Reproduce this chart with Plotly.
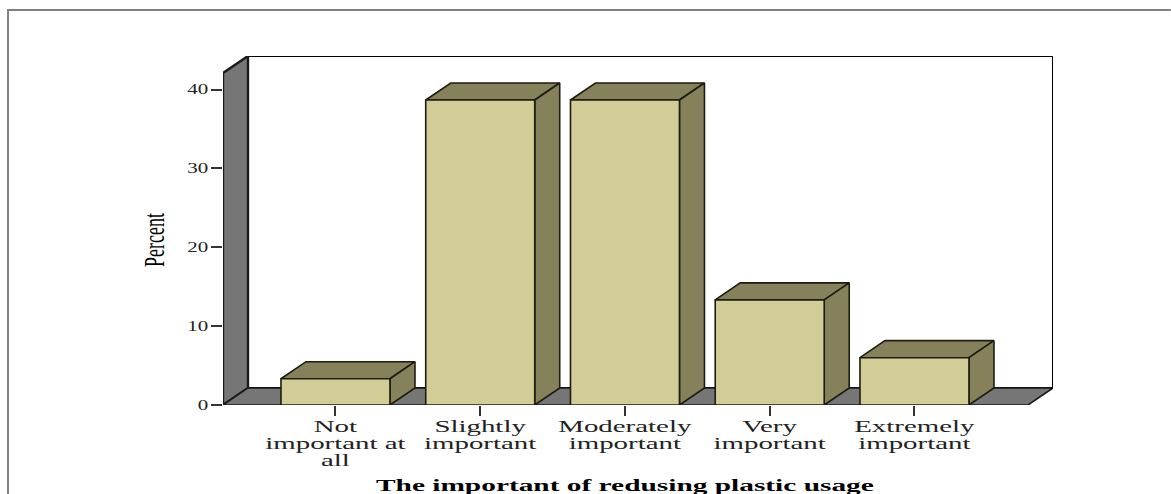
import plotly.graph_objects as go

# Survey results: share of respondents per importance level
categories = ["Not<br>important at<br>all", "Slightly<br>important", "Moderately<br>important",
              "Very<br>important", "Extremely<br>important"]
percent = [3.33, 38.67, 38.67, 13.33, 6.0]
y_ticks = [0, 10, 20, 30, 40]
x_title = "The important of redusing plastic usage"
y_title = "Percent"

# Fixed 3D look of the SPSS-style chart, in axis units
X_MIN, X_MAX = -0.777, 4.957
Y_MAX = 44.25
DEPTH_X, DEPTH_Y = 0.1727, 2.16
HALF_W = 0.3765
WALL_END = X_MAX - DEPTH_X

FRONT = "#d2cd96"
SIDE = "#85825b"
WALL = "#767676"
EDGE = "#1c1c10"


def poly(xs, ys, fill, line=EDGE, width=1.6):
    return go.Scatter(x=xs + xs[:1], y=ys + ys[:1], mode="lines", fill="toself", fillcolor=fill,
                      line=dict(color=line, width=width), hoverinfo="skip", showlegend=False)


fig = go.Figure()

# Back wall, side wall and floor
fig.add_trace(poly([X_MIN + DEPTH_X, X_MAX, X_MAX, X_MIN + DEPTH_X],
                   [DEPTH_Y, DEPTH_Y, Y_MAX, Y_MAX], "#ffffff", "#000000", 2))
fig.add_trace(poly([X_MIN, X_MIN + DEPTH_X, X_MIN + DEPTH_X, X_MIN],
                   [0, DEPTH_Y, Y_MAX, Y_MAX - DEPTH_Y], WALL, "#1a1a1a", 2.4))
fig.add_trace(poly([X_MIN, X_MIN + DEPTH_X, X_MAX, WALL_END],
                   [0, DEPTH_Y, DEPTH_Y, 0], WALL, "#1a1a1a", 1.6))

# One box per category: front face, top and right side
for i, v in enumerate(percent):
    left, right = i - HALF_W, i + HALF_W
    fig.add_trace(poly([left, right, right + DEPTH_X, left + DEPTH_X],
                       [v, v, v + DEPTH_Y, v + DEPTH_Y], SIDE))
    fig.add_trace(poly([right, right + DEPTH_X, right + DEPTH_X, right],
                       [0, DEPTH_Y, v + DEPTH_Y, v], SIDE))
    fig.add_trace(poly([left, right, right, left], [0, 0, v, v], FRONT))

fig.update_layout(
    width=1171, height=494, autosize=False,
    margin=dict(l=223, r=118, t=56, b=88.5),
    paper_bgcolor="#ffffff", plot_bgcolor="#ffffff",
    showlegend=False,
    font=dict(family="Liberation Serif", color="#222222"),
    xaxis=dict(range=[X_MIN, X_MAX], tickmode="array", tickvals=list(range(len(categories))),
               ticktext=categories, ticks="outside", ticklen=10, tickwidth=1.5, tickcolor="#333333",
               showgrid=False, zeroline=False, showline=False, tickangle=0, automargin=False,
               tickfont=dict(size=17, family="Liberation Serif", color="#222222")),
    yaxis=dict(range=[0, Y_MAX], tickmode="array", tickvals=y_ticks, ticks="outside", ticklen=11,
               tickwidth=1.5, tickcolor="#333333", showgrid=False, zeroline=False, showline=False,
               automargin=False,
               tickfont=dict(size=14, family="Liberation Serif", color="#222222")),
    annotations=[
        dict(text=x_title, xref="x", yref="paper", x=2.0, y=0, yshift=-80, showarrow=False,
             font=dict(size=16.5, family="Liberation Serif", color="#000000", weight="bold"),
             xanchor="center", yanchor="middle", name="xt"),
        dict(text=y_title, xref="paper", yref="y", x=-0.0835, y=21, textangle=-90, showarrow=False,
             font=dict(size=30, family="Liberation Serif", color="#000000"),
             xanchor="center", yanchor="middle", name="yt"),
    ],
    # Outer frame of the chart panel, open towards the right
    shapes=[dict(type="path", xref="paper", yref="paper",
                 path="M -0.259,-0.3 L -0.259,1.132 L 1.142,1.132",
                 line=dict(color="#808080", width=2), layer="below")],
)

# Widen or narrow the labels around an anchor and tighten the line spacing
post = """
var gd = document.getElementById('{plot_id}');
function stretch(el, sx, opts) {
  opts = opts || {};
  if (el.getAttribute('data-base') === null) el.setAttribute('data-base', el.getAttribute('transform') || '');
  var base = el.getAttribute('data-base');
  el.setAttribute('transform', base);
  if (opts.lead) el.querySelectorAll('tspan.line').forEach(function (t) {
    if (t.getAttribute('data-dy') === null) t.setAttribute('data-dy', t.getAttribute('dy') || '0em');
    t.setAttribute('dy', (parseFloat(t.getAttribute('data-dy')) * opts.lead) + 'em');
  });
  var b = el.getBBox(), cx = opts.right ? b.x + b.width : b.x + b.width / 2, cy = b.y + b.height / 2;
  var up = opts.up || 0;
  el.setAttribute('transform', base + ' translate(' + cx + ',' + (cy - up) + ') scale(' + sx + ',1) translate(' + (-cx) + ',' + (-cy) + ')');
}
function apply() {
  gd.querySelectorAll('.xtick text').forEach(function (t) { stretch(t, 1.7, {lead: 0.75, up: 4}); });
  gd.querySelectorAll('.ytick text').forEach(function (t) { stretch(t, 1.5, {right: true}); });
  var a = gd.querySelectorAll('.annotation-text');
  stretch(a[0], 1.78);
  stretch(a[1], 0.6);
}
gd.on('plotly_afterplot', apply);
apply();
"""

fig.write_html("out.html", post_script=post, config={"displayModeBar": False})
